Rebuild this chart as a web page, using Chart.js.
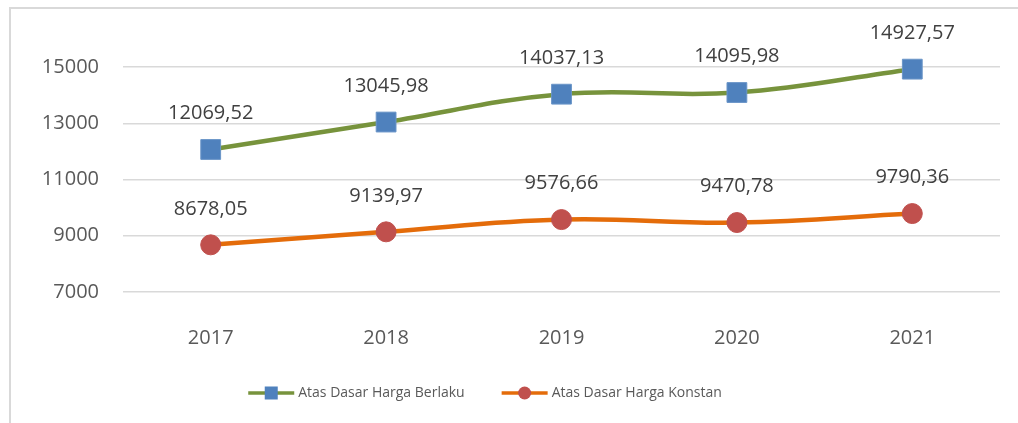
<!DOCTYPE html>
<html>
<head>
<meta charset="utf-8">
<script src="https://cdn.jsdelivr.net/npm/chart.js@4"></script>
<style>
  body { margin: 0; background: #fff; overflow: hidden; }
  canvas { display: block; }
</style>
</head>
<body>
<canvas id="chart" width="1018" height="423"></canvas>
<script>
// Data
const years = ['2017', '2018', '2019', '2020', '2021'];
const hargaBerlaku = [12069.52, 13045.98, 14037.13, 14095.98, 14927.57];
const hargaKonstan = [8678.05, 9139.97, 9576.66, 9470.78, 9790.36];
const yTicks = [7000, 9000, 11000, 13000, 15000];
const seriesNames = ['Atas Dasar Harga Berlaku', 'Atas Dasar Harga Konstan'];

const FONT = '"Open Sans", "Liberation Sans", sans-serif';
const TEXT = '#595959';

function fmt(v) {
  return v.toFixed(2).replace('.', ',');
}

// outer chart border (box runs off the right/bottom of the window)
const frame = {
  id: 'frame',
  beforeDraw(chart) {
    const ctx = chart.ctx;
    ctx.save();
    ctx.strokeStyle = '#d9d9d9';
    ctx.lineWidth = 2;
    ctx.strokeRect(10, 8, 1100, 500);
    ctx.restore();
  }
};

// value labels above each point
const valueLabels = {
  id: 'valueLabels',
  afterDatasetsDraw(chart) {
    const ctx = chart.ctx;
    ctx.save();
    ctx.font = '20px ' + FONT;
    ctx.fillStyle = '#404040';
    ctx.textAlign = 'center';
    ctx.textBaseline = 'middle';
    chart.data.datasets.forEach((ds, i) => {
      chart.getDatasetMeta(i).data.forEach((pt, j) => {
        ctx.fillText(fmt(ds.data[j]), pt.x, pt.y - 36);
      });
    });
    ctx.restore();
  }
};

// legend with line + marker, like the office style
const lineLegend = {
  id: 'lineLegend',
  afterDraw(chart) {
    const ctx = chart.ctx;
    const y = 393;
    const lineLen = 46, gap = 4, itemGap = 37;
    ctx.save();
    ctx.font = '14px ' + FONT;
    ctx.textBaseline = 'middle';
    const widths = chart.data.datasets.map(ds => lineLen + gap + ctx.measureText(ds.label).width);
    const total = widths.reduce((a, b) => a + b, 0) + itemGap * (widths.length - 1);
    let x = 485 - total / 2;
    chart.data.datasets.forEach((ds, i) => {
      ctx.strokeStyle = ds.borderColor;
      ctx.lineWidth = 3.5;
      ctx.beginPath();
      ctx.moveTo(x, y);
      ctx.lineTo(x + lineLen, y);
      ctx.stroke();
      ctx.fillStyle = ds.pointBackgroundColor;
      if (ds.pointStyle === 'rect') {
        ctx.fillRect(x + lineLen / 2 - 6.5, y - 6.5, 13, 13);
      } else {
        ctx.beginPath();
        ctx.arc(x + lineLen / 2, y, 6.5, 0, Math.PI * 2);
        ctx.fill();
      }
      ctx.fillStyle = TEXT;
      ctx.fillText(ds.label, x + lineLen + gap, y);
      x += widths[i] + itemGap;
    });
    ctx.restore();
  }
};

new Chart(document.getElementById('chart'), {
  type: 'line',
  data: {
    labels: years,
    datasets: [
      {
        label: seriesNames[0],
        data: hargaBerlaku,
        borderColor: '#77933c',
        borderWidth: 4.5,
        tension: 0.4,
        pointStyle: 'rect',
        pointRadius: 14,
        pointBackgroundColor: '#4f81bd',
        pointBorderColor: '#6a95c8',
        pointBorderWidth: 1
      },
      {
        label: seriesNames[1],
        data: hargaKonstan,
        borderColor: '#e46c0a',
        borderWidth: 4.5,
        tension: 0.4,
        pointStyle: 'circle',
        pointRadius: 10,
        pointBackgroundColor: '#c0504d',
        pointBorderColor: '#c0504d',
        pointBorderWidth: 1
      }
    ]
  },
  options: {
    responsive: false,
    animation: false,
    layout: { padding: { top: 39, right: 18, left: 0, bottom: 0 } },
    plugins: {
      legend: { display: false },
      tooltip: { enabled: false }
    },
    scales: {
      x: {
        offset: true,
        grid: { display: false },
        border: { display: false },
        ticks: { color: TEXT, font: { family: FONT, size: 20 }, padding: 26 },
        afterFit(s) { s.height = 131; }
      },
      y: {
        min: 7000,
        max: 16000,
        afterBuildTicks(s) { s.ticks = yTicks.map(v => ({ value: v })); },
        grid: { color: '#d9d9d9', lineWidth: 1.5, drawTicks: false },
        border: { display: false },
        ticks: {
          color: TEXT,
          font: { family: FONT, size: 20 },
          padding: 24,
          callback: v => String(v)
        },
        afterFit(s) { s.width = 123; }
      }
    }
  },
  plugins: [frame, valueLabels, lineLegend]
});
</script>
</body>
</html>
